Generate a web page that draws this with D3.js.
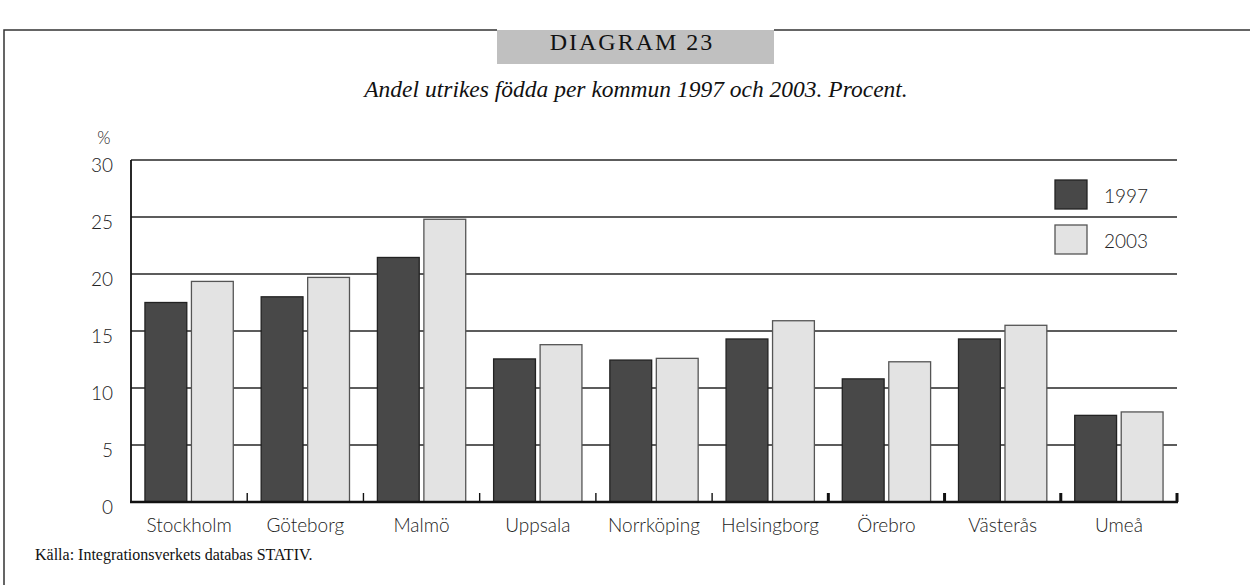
<!DOCTYPE html>
<html>
<head>
<meta charset="utf-8">
<script src="https://cdn.jsdelivr.net/npm/d3@7"></script>
<style>
  body { margin: 0; background: #fff; }
  svg { display: block; }
  .sans { font-family: Lato, "Open Sans", sans-serif; font-weight: 300; fill: #222; }
  .serif { font-family: "Liberation Serif", "DejaVu Serif", serif; fill: #111; }
</style>
</head>
<body>
<svg id="chart" width="1250" height="585"></svg>
<script>
// chart data
var categories = ['Stockholm', 'Göteborg', 'Malmö', 'Uppsala', 'Norrköping', 'Helsingborg', 'Örebro', 'Västerås', 'Umeå'];
var series = ['1997', '2003'];
var values1997 = [17.5, 18.0, 21.45, 12.55, 12.45, 14.3, 10.8, 14.3, 7.6];
var values2003 = [19.35, 19.7, 24.8, 13.8, 12.6, 15.9, 12.3, 15.5, 7.9];
var yTicks = [0, 5, 10, 15, 20, 25, 30];

var colors = { '1997': '#484848', '2003': '#e3e3e3' };
var strokes = { '1997': '#222', '2003': '#555' };

var svg = d3.select('#chart');

var plot = { left: 131, right: 1177, top: 160, bottom: 502 };

var x = d3.scaleBand()
  .domain(categories)
  .range([plot.left, plot.right])
  .padding(0);

var xs = d3.scaleBand()
  .domain(series)
  .range([0, x.bandwidth()])
  .paddingInner(0.1)
  .paddingOuter(0.3);

var y = d3.scaleLinear()
  .domain([0, 30])
  .range([plot.bottom, plot.top]);

/* frame + header box */
svg.append('rect')
  .attr('x', 497).attr('y', 30)
  .attr('width', 277).attr('height', 34)
  .attr('fill', '#c0c0c0');

svg.append('path')
  .attr('d', 'M4,585 V30 H497 M774,30 H1250')
  .attr('fill', 'none')
  .attr('stroke', '#333')
  .attr('stroke-width', 1.5);

svg.append('text')
  .attr('class', 'serif')
  .attr('x', 632).attr('y', 50)
  .attr('text-anchor', 'middle')
  .style('font-size', '24px')
  .style('letter-spacing', '2px')
  .text('DIAGRAM 23');

svg.append('text')
  .attr('class', 'serif')
  .attr('x', 636).attr('y', 97)
  .attr('text-anchor', 'middle')
  .style('font-size', '23.5px')
  .style('font-style', 'italic')
  .text('Andel utrikes födda per kommun 1997 och 2003. Procent.');

/* gridlines */
svg.append('g')
  .selectAll('line')
  .data(yTicks.filter(function (d) { return d > 0; }))
  .enter().append('line')
  .attr('x1', plot.left).attr('x2', plot.right)
  .attr('y1', function (d) { return y(d); })
  .attr('y2', function (d) { return y(d); })
  .attr('stroke', '#262626')
  .attr('stroke-width', 1.4);

/* y labels */
svg.append('g')
  .selectAll('text')
  .data(yTicks)
  .enter().append('text')
  .attr('class', 'sans')
  .attr('x', 113)
  .attr('y', function (d) { return y(d) + 12; })
  .attr('text-anchor', 'end')
  .style('font-size', '19px')
  .text(function (d) { return d; });

svg.append('text')
  .attr('class', 'sans')
  .attr('x', 104).attr('y', 144)
  .attr('text-anchor', 'middle')
  .style('font-size', '17px')
  .text('%');

/* bars */
var groups = svg.append('g')
  .selectAll('g')
  .data(categories)
  .enter().append('g')
  .attr('transform', function (d) { return 'translate(' + x(d) + ',0)'; });

groups.selectAll('rect')
  .data(function (d, i) {
    return [
      { key: '1997', value: values1997[i] },
      { key: '2003', value: values2003[i] }
    ];
  })
  .enter().append('rect')
  .attr('x', function (d) { return xs(d.key); })
  .attr('width', xs.bandwidth())
  .attr('y', function (d) { return y(d.value); })
  .attr('height', function (d) { return y(0) - y(d.value); })
  .attr('fill', function (d) { return colors[d.key]; })
  .attr('stroke', function (d) { return strokes[d.key]; })
  .attr('stroke-width', 1.3);

/* axes */
svg.append('line')
  .attr('x1', plot.left).attr('x2', plot.left)
  .attr('y1', plot.top).attr('y2', plot.bottom)
  .attr('stroke', '#111').attr('stroke-width', 1.8);

svg.append('line')
  .attr('x1', plot.left - 1).attr('x2', plot.right + 1)
  .attr('y1', plot.bottom).attr('y2', plot.bottom)
  .attr('stroke', '#111').attr('stroke-width', 2.5);

// small ticks at the category boundaries
svg.append('g')
  .selectAll('line')
  .data(categories.slice(1).concat(['end']))
  .enter().append('line')
  .attr('x1', function (d) { return d === 'end' ? plot.right : x(d); })
  .attr('x2', function (d) { return d === 'end' ? plot.right : x(d); })
  .attr('y1', plot.bottom).attr('y2', plot.bottom - 9)
  .attr('stroke', '#111')
  .attr('stroke-width', function (d, i) { return i >= 5 ? 3 : 1.4; });

/* category labels */
svg.append('g')
  .selectAll('text')
  .data(categories)
  .enter().append('text')
  .attr('class', 'sans')
  .attr('x', function (d) { return x(d) + x.bandwidth() / 2; })
  .attr('y', 532)
  .attr('text-anchor', 'middle')
  .style('font-size', '19px')
  .text(function (d) { return d; });

/* legend */
var legend = svg.append('g')
  .selectAll('g')
  .data(series)
  .enter().append('g')
  .attr('transform', function (d, i) { return 'translate(1055,' + (180 + i * 45) + ')'; });

legend.append('rect')
  .attr('width', 32).attr('height', 29)
  .attr('fill', function (d) { return colors[d]; })
  .attr('stroke', function (d) { return strokes[d]; })
  .attr('stroke-width', 1.3);

legend.append('text')
  .attr('class', 'sans')
  .attr('x', 49).attr('y', 23)
  .style('font-size', '19px')
  .text(function (d) { return d; });

/* source */
svg.append('text')
  .attr('class', 'serif')
  .attr('x', 35).attr('y', 560)
  .style('font-size', '16px')
  .text('Källa: Integrationsverkets databas STATIV.');
</script>
</body>
</html>
